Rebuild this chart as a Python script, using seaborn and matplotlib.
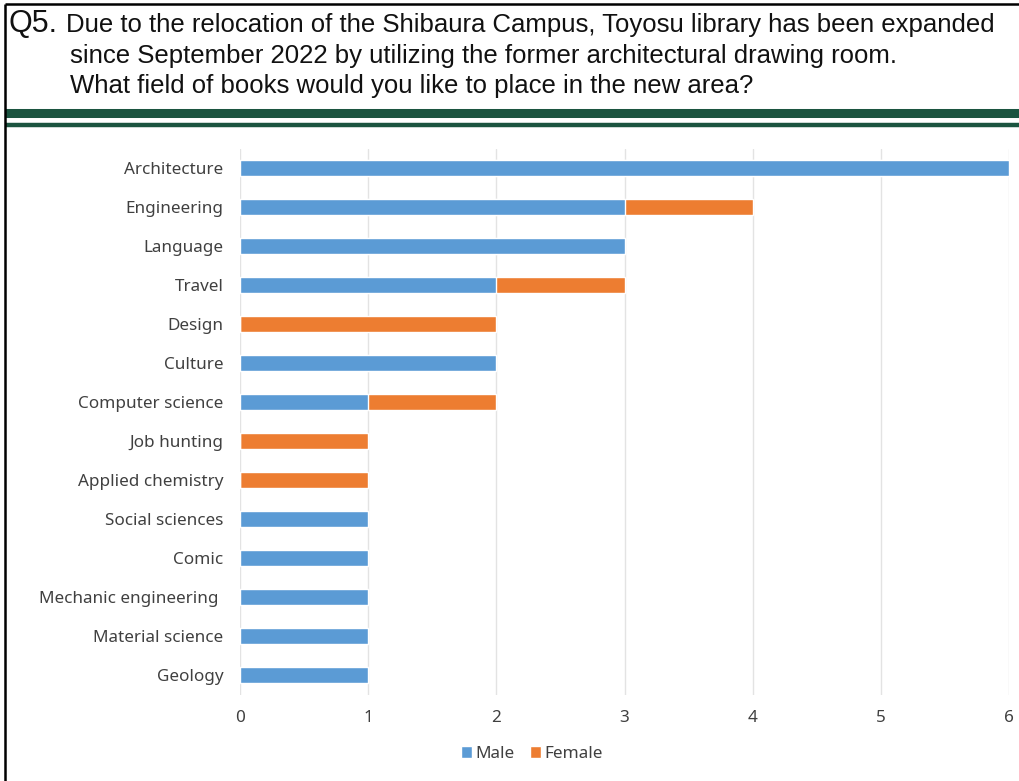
import matplotlib
matplotlib.use("Agg")
import matplotlib.pyplot as plt
import seaborn as sns
import pandas as pd
from matplotlib.lines import Line2D
from matplotlib.patches import Patch

categories = ["Architecture", "Engineering", "Language", "Travel", "Design", "Culture",
              "Computer science", "Job hunting", "Applied chemistry", "Social sciences",
              "Comic", "Mechanic engineering ", "Material science", "Geology"]
male = [6, 3, 3, 2, 0, 2, 1, 0, 0, 1, 1, 1, 1, 1]
female = [0, 1, 0, 1, 2, 0, 1, 1, 1, 0, 0, 0, 0, 0]
xticks = [0, 1, 2, 3, 4, 5, 6]

title_q = "Q5."
title_lines = ["Due to the relocation of the Shibaura Campus, Toyosu library has been expanded",
               "since September 2022 by utilizing the former architectural drawing room.",
               "What field of books would you like to place in the new area?"]

sns.set_theme(style="white")
plt.rcParams['font.family'] = ['Noto Sans', 'DejaVu Sans']

blue = "#5B9BD5"
orange = "#ED7D31"
green = "#1B5440"

df = pd.DataFrame({"category": categories, "Male": male, "Female": female})
df["Total"] = df["Male"] + df["Female"]

fig = plt.figure(figsize=(10.19, 7.81), dpi=100)
ax = fig.add_axes([240/1019, 1-694.5/781, (1009-240)/1019, (694.5-148.5)/781])

sns.barplot(data=df, y="category", x="Total", color=orange, orient="h", width=0.42, ax=ax,
            order=categories, saturation=1)
sns.barplot(data=df, y="category", x="Male", color=blue, orient="h", width=0.42, ax=ax,
            order=categories, saturation=1)

ax.set_xlim(0, 6)
ax.set_ylim(len(categories)-0.5, -0.5)
ax.set_xticks(xticks)
ax.set_xticklabels([str(v) for v in xticks])
ax.set_xlabel("")
ax.set_ylabel("")
ax.grid(axis="x", color="#E3E3E3", linewidth=1.0)
ax.set_axisbelow(True)
for s in ax.spines.values():
    s.set_visible(False)
ax.tick_params(axis="both", length=0, labelsize=12.3, colors="#404040")
ax.tick_params(axis="y", pad=12)
ax.tick_params(axis="x", pad=11)

handles = [Patch(facecolor=blue, label="Male"), Patch(facecolor=orange, label="Female")]
fig.legend(handles=handles, loc="center", bbox_to_anchor=(532/1019, 1-754/781), ncol=2,
           frameon=False, fontsize=12.3, handlelength=0.65, handleheight=0.65,
           handletextpad=0.2, columnspacing=0.9, labelcolor="#404040")

# title
tfont = ['Liberation Sans Narrow', 'Liberation Sans', 'DejaVu Sans']
fig.text(9/1019, 1-24/781, title_q, fontsize=22, family=tfont, va="center", ha="left", color="#111111")
fig.text(66/1019, 1-25/781, title_lines[0], fontsize=18.5, family=tfont, va="center", ha="left", color="#111111")
fig.text(70/1019, 1-56/781, title_lines[1], fontsize=18.5, family=tfont, va="center", ha="left", color="#111111")
fig.text(70/1019, 1-86/781, title_lines[2], fontsize=18.5, family=tfont, va="center", ha="left", color="#111111")

# decorative lines
fig.add_artist(Line2D([4.5/1019, 1], [1-112.5/781]*2, color=green, linewidth=6.5,
                      solid_capstyle="butt", transform=fig.transFigure))
fig.add_artist(Line2D([4.5/1019, 1], [1-125/781]*2, color=green, linewidth=3.2,
                      solid_capstyle="butt", transform=fig.transFigure))
fig.add_artist(Line2D([4.5/1019, 4.5/1019], [0, 1-3.5/781], color="black", linewidth=1.8,
                      solid_capstyle="butt", transform=fig.transFigure))
fig.add_artist(Line2D([4.5/1019, 1], [1-3.5/781]*2, color="black", linewidth=1.8,
                      solid_capstyle="butt", transform=fig.transFigure))

fig.savefig("out.png", dpi=100)
